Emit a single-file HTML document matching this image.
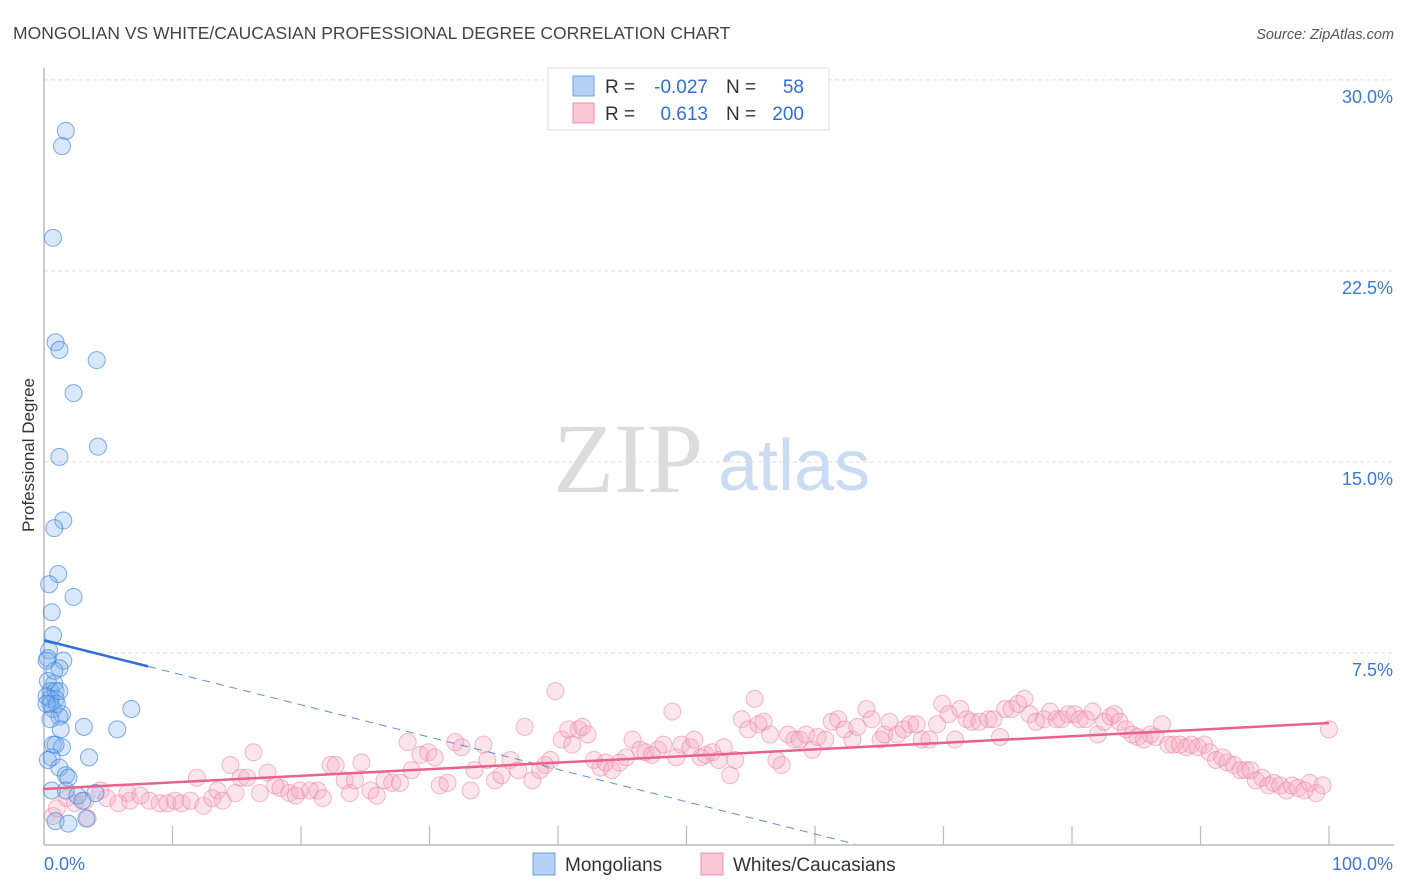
<!DOCTYPE html>
<html><head><meta charset="utf-8"><style>
body{margin:0;background:#fff;font-family:"Liberation Sans",sans-serif;}
#wrap{position:relative;width:1406px;height:892px;overflow:hidden;}
</style></head><body>
<div id="wrap">
<svg id="chart" width="1406" height="892">
<text x="13" y="39" font-size="17.5" fill="#444">MONGOLIAN VS WHITE/CAUCASIAN PROFESSIONAL DEGREE CORRELATION CHART</text>
<text x="1394" y="39" font-size="14.5" fill="#555" font-style="italic" text-anchor="end">Source: ZipAtlas.com</text>
<text x="34" y="455" font-size="17" fill="#333" text-anchor="middle" transform="rotate(-90 34 455)">Professional Degree</text>
<g>
<text x="553" y="492" font-size="100" fill="#dcdcdc" font-family="Liberation Serif,serif">ZIP</text>
<text x="718" y="490" font-size="72" fill="#c9dcf3">atlas</text>
</g>
<g id="grid"></g><g id="axes"></g><g id="pts"></g><g id="trend"></g>
<g>
<rect x="548" y="68" width="281" height="62" fill="#fff" stroke="#ddd"/>
<rect x="573" y="76" width="21" height="20" fill="#b5d2f5" stroke="#6aa2e6"/>
<rect x="573" y="103" width="21" height="20" fill="#f9c6d6" stroke="#ec93ae"/>
<text x="605" y="93" font-size="19" fill="#333">R =</text>
<text x="708" y="93" font-size="19" fill="#2f6fd6" text-anchor="end">-0.027</text>
<text x="726" y="93" font-size="19" fill="#333">N =</text>
<text x="804" y="93" font-size="19" fill="#2f6fd6" text-anchor="end">58</text>
<text x="605" y="120" font-size="19" fill="#333">R =</text>
<text x="708" y="120" font-size="19" fill="#2f6fd6" text-anchor="end">0.613</text>
<text x="726" y="120" font-size="19" fill="#333">N =</text>
<text x="804" y="120" font-size="19" fill="#2f6fd6" text-anchor="end">200</text>
</g>
<g>
<rect x="533" y="853" width="22" height="22" fill="#b5d2f5" stroke="#6aa2e6"/>
<text x="565" y="871" font-size="19" fill="#333">Mongolians</text>
<rect x="701" y="853" width="22" height="22" fill="#f9c6d6" stroke="#ec93ae"/>
<text x="733" y="871" font-size="19" fill="#333">Whites/Caucasians</text>
</g>
</svg>
</div>
<script>
const yTicks=[7.5,15,22.5,30];
const yTickLabels=["7.5%","15.0%","22.5%","30.0%"];
const xTicks=[10,20,30,40,50,60,70,80,90,100];
const xEndLabels=["0.0%","100.0%"];
const blueX=[1.7,1.4,0.7,0.9,1.2,4.1,2.3,4.2,1.2,1.5,0.8,1.1,0.4,2.3,0.6,0.7,0.4,0.3,1.5,1.2,0.3,0.8,0.5,0.9,0.2,0.9,0.5,0.7,1.4,1.2,3.1,1.3,5.7,6.8,0.7,1.4,0.9,0.6,0.3,3.5,1.2,1.7,1.9,0.6,1.7,2.6,4.0,3.0,0.9,1.9,3.3,0.5,1.0,0.2,0.5,1.2,0.8,0.2];
const blueY=[28.0,27.4,23.8,19.7,19.4,19.0,17.7,15.6,15.2,12.7,12.4,10.6,10.2,9.7,9.1,8.2,7.6,7.3,7.2,6.9,6.4,6.3,6.0,6.0,5.8,5.7,5.5,5.3,5.1,5.0,4.6,4.5,4.5,5.3,3.9,3.8,3.9,3.4,3.3,3.4,3.0,2.7,2.6,2.1,2.1,1.9,2.0,1.7,0.9,0.8,1.0,5.7,5.5,5.5,4.9,6.0,6.8,7.2];
const pinkX=[0.7,1.0,1.8,2.4,3.2,3.4,4.4,4.9,5.8,6.5,6.7,7.5,8.2,9.0,9.6,10.2,10.7,11.4,11.9,12.4,13.1,13.5,13.9,14.5,14.9,15.3,15.8,16.3,16.8,17.4,18.0,18.4,19.1,19.6,19.9,20.7,21.3,21.7,22.3,22.7,23.4,23.8,24.2,24.7,25.4,25.9,26.5,27.1,27.7,28.3,28.6,29.3,29.9,30.4,30.8,31.4,32.0,32.5,33.2,33.5,34.2,34.5,35.1,35.6,36.3,36.9,37.4,38.0,38.6,39.0,39.4,39.8,40.3,40.8,41.1,41.6,41.9,42.3,42.8,43.3,43.7,44.2,44.8,45.3,45.8,46.4,46.8,47.3,47.8,48.2,48.9,49.2,49.6,50.3,50.6,51.1,51.5,52.0,52.5,52.9,53.4,53.8,54.3,54.8,55.3,55.6,56.0,56.5,57.0,57.4,57.9,58.4,58.8,59.3,59.8,60.2,60.8,61.3,61.8,62.3,62.9,63.3,64.0,64.4,65.1,65.4,65.8,66.4,66.9,67.4,67.9,68.3,68.9,69.5,69.9,70.4,70.9,71.3,71.8,72.2,72.8,73.5,73.9,74.4,74.8,75.3,75.8,76.3,76.7,77.2,77.8,78.3,78.8,79.2,79.7,80.2,80.6,81.1,81.6,82.0,82.5,83.0,83.3,83.7,84.2,84.7,85.1,85.6,86.1,86.5,87.0,87.5,87.9,88.4,88.9,89.3,89.8,90.3,90.7,91.2,91.7,92.1,92.6,93.1,93.5,93.9,94.3,94.8,95.3,95.7,96.2,96.7,97.1,97.6,98.1,98.5,99.0,99.5,100];
const pinkY=[1.1,1.4,1.8,1.6,1.7,1.0,2.1,1.8,1.6,2.0,1.7,1.9,1.7,1.6,1.6,1.7,1.6,1.7,2.6,1.5,1.8,2.1,1.7,3.1,2.0,2.6,2.6,3.6,2.0,2.8,2.3,2.2,2.0,1.9,2.1,2.1,2.1,1.8,3.1,3.1,2.5,2.0,2.5,3.2,2.1,1.9,2.5,2.4,2.4,4.0,2.9,3.5,3.6,3.4,2.3,2.4,4.0,3.8,2.1,2.9,3.9,3.3,2.5,2.7,3.3,2.9,4.6,2.5,2.9,3.1,3.3,6.0,4.1,4.5,3.9,4.5,4.6,4.3,3.3,3.0,3.2,2.9,3.2,3.4,4.1,3.7,3.6,3.5,3.7,3.9,5.2,3.4,3.9,3.8,4.1,3.4,3.5,3.6,3.3,3.8,2.7,3.3,4.9,4.5,5.7,4.7,4.8,4.3,3.3,3.1,4.3,4.1,4.1,4.3,3.7,4.2,4.1,4.8,4.9,4.5,4.1,4.6,5.3,4.9,4.1,4.3,4.8,4.3,4.5,4.7,4.7,4.1,4.1,4.7,5.5,5.1,4.1,5.3,4.9,4.8,4.8,4.9,4.9,4.2,5.3,5.3,5.5,5.7,5.1,4.8,4.9,5.2,4.9,4.9,5.1,5.1,4.9,4.9,5.2,4.3,4.8,5.0,5.1,4.8,4.5,4.3,4.2,4.1,4.3,4.2,4.7,3.9,3.9,3.9,3.8,3.9,3.8,3.9,3.6,3.3,3.4,3.2,3.1,2.9,2.9,2.9,2.5,2.6,2.3,2.4,2.3,2.1,2.3,2.2,2.1,2.4,2.0,2.3,4.5];
const blueTrend=[8.0,-0.1268];
const pinkTrend=[2.16,0.0259];

const NS="http://www.w3.org/2000/svg";
const X0=44,X1=1329,Y0=844,PXY=25.47;
function sx(v){return X0+(X1-X0)*v/100;}
function sy(v){return Y0-v*PXY;}
function mk(tag,attrs,parent){const e=document.createElementNS(NS,tag);for(const k in attrs)e.setAttribute(k,attrs[k]);parent.appendChild(e);return e;}
const grid=document.getElementById('grid'),axes=document.getElementById('axes'),pts=document.getElementById('pts'),trend=document.getElementById('trend');
yTicks.forEach((t,i)=>{
 const l=mk('line',{x1:X0,x2:1394,y1:sy(t),y2:sy(t),stroke:'#ddd','stroke-dasharray':'4,3'},grid);
 
 
 const tx=mk('text',{x:1393,y:sy(t)+23,'font-size':18,fill:'#3a78d6','text-anchor':'end'},grid);
 tx.textContent=yTickLabels[i];
 
 
});
let a=mk('line',{x1:X0,x2:X0,y1:68,y2:Y0+1,stroke:'#bbb','stroke-width':1.5},axes);


a=mk('line',{x1:X0,x2:1394,y1:Y0+1,y2:Y0+1,stroke:'#bbb','stroke-width':1.5},axes);


xTicks.forEach(t=>{
 const l=mk('line',{x1:sx(t),x2:sx(t),y1:Y0-18,y2:Y0+1,stroke:'#bbb','stroke-width':1.2},axes);
 
 
});
let tl=mk('text',{x:X0,y:870,'font-size':18,fill:'#3a78d6'},axes);tl.textContent=xEndLabels[0];


tl=mk('text',{x:1393,y:870,'font-size':18,fill:'#3a78d6','text-anchor':'end'},axes);tl.textContent=xEndLabels[1];


pinkX.forEach((x,i)=>{
 const c=mk('circle',{cx:sx(x),cy:sy(pinkY[i]),r:8.5,fill:'rgba(244,165,190,0.3)',stroke:'rgba(234,130,162,0.55)','stroke-width':1},pts);
 
 
});
blueX.forEach((x,i)=>{
 const c=mk('circle',{cx:sx(x),cy:sy(blueY[i]),r:8.5,fill:'rgba(125,175,235,0.3)',stroke:'rgba(60,130,220,0.65)','stroke-width':1},pts);
 
 
});
const bEnd=8.1, bZero=-blueTrend[0]/blueTrend[1];
let t=mk('line',{x1:sx(0),y1:sy(blueTrend[0]),x2:sx(bEnd),y2:sy(blueTrend[0]+blueTrend[1]*bEnd),stroke:'#2f6fd6','stroke-width':2.5},trend);


t=mk('line',{x1:sx(bEnd),y1:sy(blueTrend[0]+blueTrend[1]*bEnd),x2:sx(bZero),y2:sy(0),stroke:'#5b8fdc','stroke-width':1,'stroke-dasharray':'8,6'},trend);


t=mk('line',{x1:sx(0),y1:sy(pinkTrend[0]),x2:sx(100),y2:sy(pinkTrend[0]+pinkTrend[1]*100),stroke:'#e8628c','stroke-width':2.5},trend);


</script>
</body></html>
